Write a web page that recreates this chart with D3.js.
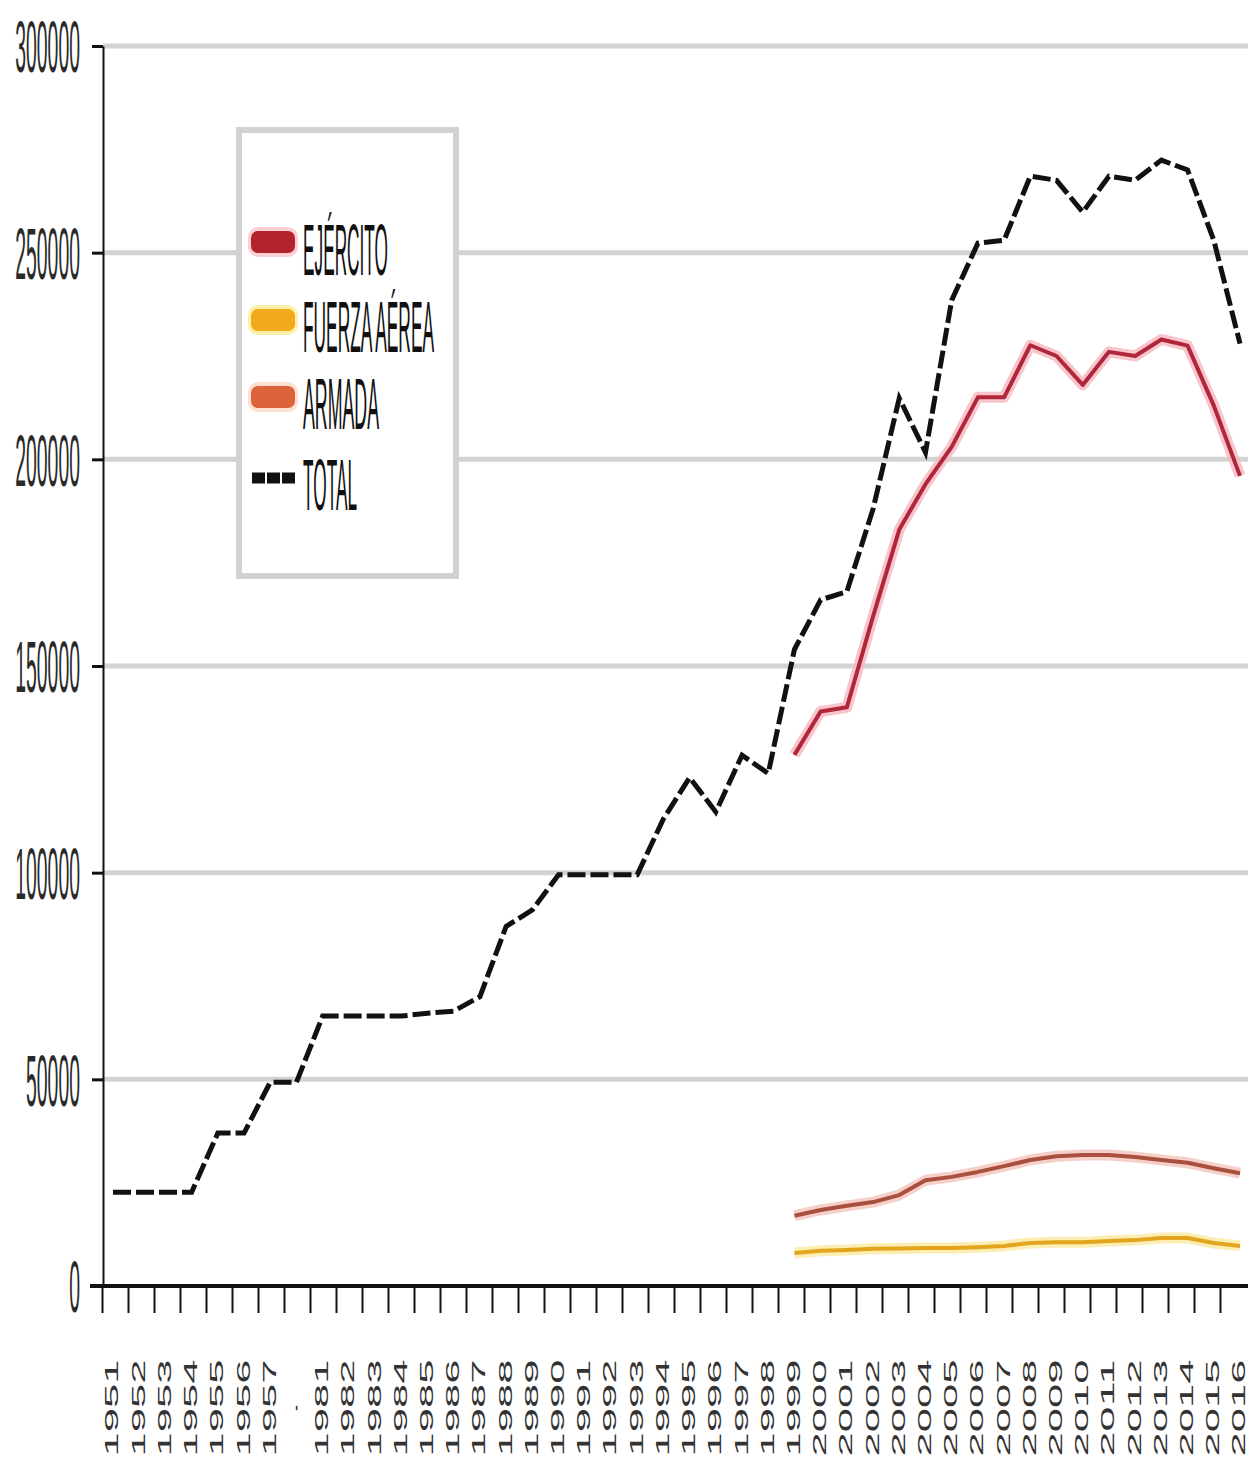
<!DOCTYPE html>
<html>
<head>
<meta charset="utf-8">
<script src="https://cdn.jsdelivr.net/npm/d3@7"></script>
<style>
    body { margin: 0; background: #fff; }
    text { font-family: "Liberation Sans Narrow", "Liberation Sans", "DejaVu Sans Condensed", sans-serif; }
</style>
</head>
<body>
<script>
window.onload = main;

// year labels along the x axis ("-" marks the skipped period)
const years = ["1951", "1952", "1953", "1954", "1955", "1956", "1957", "-",
    "1981", "1982", "1983", "1984", "1985", "1986", "1987", "1988", "1989", "1990",
    "1991", "1992", "1993", "1994", "1995", "1996", "1997", "1998", "1999", "2000",
    "2001", "2002", "2003", "2004", "2005", "2006", "2007", "2008", "2009", "2010",
    "2011", "2012", "2013", "2014", "2015", "2016"];

const total = [22700, 22700, 22700, 22700, 37000, 37000, 49300, 49300,
    65300, 65300, 65300, 65300, 66000, 66500, 70000, 87000, 91000, 99500,
    99500, 99500, 99500, 113000, 123000, 114700, 128400, 124000, 154000, 166000,
    168000, 188000, 214800, 201700, 238500, 252300, 253000, 268500, 267500, 259800,
    268500, 267500, 272400, 270000, 253000, 228000];

// the three branches are only given from 1999 on
const branchYears = ["1999", "2000", "2001", "2002", "2003", "2004", "2005", "2006", "2007",
    "2008", "2009", "2010", "2011", "2012", "2013", "2014", "2015", "2016"];

const ejercito = [128500, 139000, 140000, 162000, 183000, 194000, 203000, 215000, 215000,
    227600, 225000, 218000, 226000, 225000, 229000, 227500, 213000, 196000];

const fuerzaAerea = [8000, 8500, 8700, 9000, 9100, 9200, 9200, 9400, 9700,
    10400, 10600, 10600, 10900, 11100, 11600, 11600, 10400, 9700];

const armada = [17000, 18400, 19400, 20300, 22000, 25600, 26400, 27600, 29000,
    30500, 31400, 31700, 31700, 31200, 30500, 29800, 28500, 27300];

const yTicks = [0, 50000, 100000, 150000, 200000, 250000, 300000];

const legendItems = ["EJÉRCITO", "FUERZA AÉREA", "ARMADA", "TOTAL"];

const svgWidth = 1248;
const svgHeight = 1476;

const margin = {top: 46, right: 6, bottom: 190, left: 103};
const chartWidth = svgWidth - margin.left - margin.right;
const chartHeight = svgHeight - margin.top - margin.bottom;

function main() {
    const svg = d3.select("body")
        .append("svg")
        .attr("width", svgWidth)
        .attr("height", svgHeight);

    const g = svg.append("g")
        .attr("transform", `translate(${margin.left}, ${margin.top})`);

    // scales
    const scaleX = d3.scalePoint()
        .domain(years)
        .range([10, chartWidth - 2]);
    const scaleIdx = d3.scaleLinear()
        .domain([0, years.length])
        .range([-1, chartWidth + 4]);
    const scaleY = d3.scaleLinear()
        .domain([0, 300000])
        .range([chartHeight, 0]);

    // gridlines
    g.append("g")
        .selectAll("line")
        .data(yTicks.filter(d => d > 0))
        .join("line")
        .attr("x1", 0)
        .attr("x2", chartWidth + margin.right)
        .attr("y1", d => scaleY(d))
        .attr("y2", d => scaleY(d))
        .attr("stroke", "#d3d3d3")
        .attr("stroke-width", 5);

    // y axis
    const yAxis = g.append("g")
        .call(d3.axisLeft(scaleY)
            .tickValues(yTicks)
            .tickSize(11)
            .tickSizeOuter(0)
            .tickFormat(d => d));
    yAxis.select(".domain").attr("stroke", "#111").attr("stroke-width", 2);
    yAxis.selectAll(".tick line").attr("stroke", "#111").attr("stroke-width", 3);
    yAxis.selectAll(".tick text")
        .attr("x", -23)
        .attr("dy", "0.36em")
        .attr("font-size", 72)
        .attr("fill", "#2a2a2a")
        .attr("textLength", d => String(d).length * 10.8)
        .attr("lengthAdjust", "spacingAndGlyphs");

    // x axis: ticks between the years
    const xTicks = g.append("g")
        .attr("transform", `translate(0, ${chartHeight})`)
        .call(d3.axisBottom(scaleIdx)
            .tickValues(d3.range(years.length))
            .tickSize(27)
            .tickSizeOuter(0)
            .tickFormat(""));
    xTicks.select(".domain").remove();
    xTicks.selectAll(".tick line").attr("stroke", "#111").attr("stroke-width", 2);

    g.append("line")
        .attr("x1", -13)
        .attr("x2", chartWidth + margin.right)
        .attr("y1", chartHeight)
        .attr("y2", chartHeight)
        .attr("stroke", "#111")
        .attr("stroke-width", 4);

    // x labels, rotated
    g.append("g")
        .selectAll("text")
        .data(years)
        .join("text")
        .attr("transform", d => `translate(${scaleX(d) - 1}, ${chartHeight + 122}) rotate(-90)`)
        .attr("text-anchor", "middle")
        .attr("dy", "0.36em")
        .attr("font-size", 18)
        .attr("fill", "#333")
        .each(function (d) {
            if (d.length > 1) {
                d3.select(this).attr("textLength", 97).attr("lengthAdjust", "spacingAndGlyphs");
            }
        })
        .text(d => d);

    // lines
    const lineTotal = d3.line()
        .x((d, i) => scaleX(years[i]))
        .y(d => scaleY(d));
    const lineBranch = d3.line()
        .x((d, i) => scaleX(branchYears[i]))
        .y(d => scaleY(d));

    const branches = [
        {values: armada, color: "#a9503f", glow: "#f4c3ba"},
        {values: fuerzaAerea, color: "#e2a51d", glow: "#fbe8a0"},
        {values: ejercito, color: "#b0263a", glow: "#f6b6c0"}
    ];
    branches.forEach(b => {
        g.append("path")
            .attr("d", lineBranch(b.values))
            .attr("fill", "none")
            .attr("stroke", b.glow)
            .attr("stroke-width", 11)
            .attr("stroke-linejoin", "round")
            .attr("opacity", 0.8);
        g.append("path")
            .attr("d", lineBranch(b.values))
            .attr("fill", "none")
            .attr("stroke", b.color)
            .attr("stroke-width", 4)
            .attr("stroke-linejoin", "round");
    });

    g.append("path")
        .attr("d", lineTotal(total))
        .attr("fill", "none")
        .attr("stroke", "#111")
        .attr("stroke-width", 5)
        .attr("stroke-dasharray", "18,5");

    // legend
    const legend = svg.append("g");
    legend.append("rect")
        .attr("x", 239)
        .attr("y", 130)
        .attr("width", 217)
        .attr("height", 446)
        .attr("fill", "#fff")
        .attr("stroke", "#d2d2d2")
        .attr("stroke-width", 6);

    const swatchY = [242, 320, 397, 478];
    const baseY = [275, 352, 429, 510];
    const textLen = [85, 131, 76, 54];
    const swatchColor = ["#b3232e", "#f2a91b", "#dd643a"];
    const swatchGlow = ["#fbd0d4", "#fff0a8", "#fde0d0"];

    legendItems.forEach((name, i) => {
        if (i < 3) {
            legend.append("rect")
                .attr("x", 248).attr("y", swatchY[i] - 15)
                .attr("width", 50).attr("height", 30).attr("rx", 10)
                .attr("fill", swatchGlow[i]);
            legend.append("rect")
                .attr("x", 251).attr("y", swatchY[i] - 11)
                .attr("width", 44).attr("height", 22).attr("rx", 7)
                .attr("fill", swatchColor[i]);
        } else {
            legend.append("line")
                .attr("x1", 252).attr("x2", 296)
                .attr("y1", swatchY[i]).attr("y2", swatchY[i])
                .attr("stroke", "#111")
                .attr("stroke-width", 11)
                .attr("stroke-dasharray", "13,2");
        }
        legend.append("text")
            .attr("x", 303)
            .attr("y", baseY[i])
            .attr("font-size", 72)
            .attr("fill", "#111")
            .attr("textLength", textLen[i])
            .attr("lengthAdjust", "spacingAndGlyphs")
            .text(name);
    });
}
</script>
</body>
</html>
